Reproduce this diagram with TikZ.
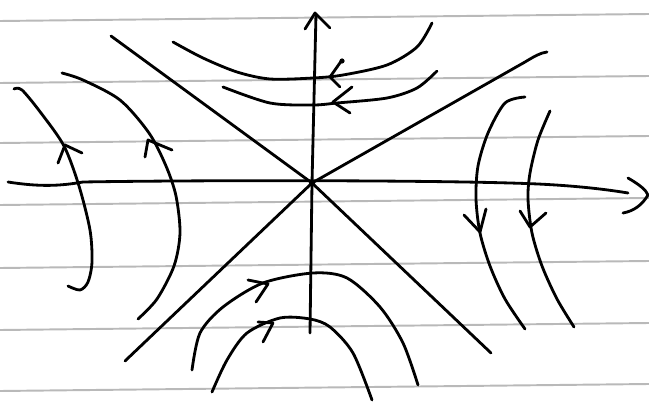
\documentclass[tikz,border=0pt]{standalone}
\usepackage{tikz}

\begin{document}
\begin{tikzpicture}[x=0.02cm,y=-0.02cm,
    pen/.style={line width=1.6pt,line cap=round,line join=round},
    rule/.style={line width=1.1pt,gray!55}]
    \useasboundingbox[fill=white] (0,0) rectangle (649,402);

    % ruled paper lines
    \foreach \y in {21,83,143,205,268,330,391} {
        \draw[rule] (0,\y) -- (649,\y-7);
    }

    \coordinate (O) at (312,183);

    % x axis
    \draw[pen] (8,182) .. controls (40,187) and (60,186) .. (83,182) .. controls (200,180) and (450,180) .. (538,184) .. controls (580,186) and (610,190) .. (628,193);
    \draw[pen] (628,178) .. controls (640,185) and (646,190) .. (648,195) .. controls (642,205) and (634,211) .. (623,213);

    % y axis
    \draw[pen] (310,333) -- (O) -- (316,14);
    \draw[pen] (305,29) -- (315,13) -- (330,28);
    \fill (O) circle (3);

    % separatrices
    \draw[pen] (111,36) -- (O) -- (491,353);
    \draw[pen] (125,361) -- (O) -- (525,62) .. controls (535,56) and (540,53) .. (547,52);

    % left trajectories (upwards)
    \draw[pen] plot[smooth] coordinates {(68,286) (80,290) (88,282) (92,262) (90,230) (79,186) (64,146) (41,113) (22,90) (14,89)};
    \draw[pen] (58,163) -- (65,145) -- (82,153);
    \draw[pen] plot[smooth] coordinates {(138,319) (157,299) (174,266) (180,233) (176,196) (166,166) (149,133) (120,100) (83,80) (62,73)};
    \draw[pen] (145,157) -- (148,140) -- (172,150);

    % right trajectories (downwards)
    \draw[pen] plot[smooth] coordinates {(525,97) (505,103) (488,133) (478,166) (476,199) (480,233) (490,266) (505,299) (525,329)};
    \draw[pen] (464,215) -- (480,232) -- (486,209);
    \draw[pen] plot[smooth] coordinates {(550,111) (538,140) (530,173) (528,199) (532,233) (542,266) (557,299) (574,327)};
    \draw[pen] (520,211) -- (530,227) -- (546,213);

    % top trajectories (leftwards)
    \draw[pen] plot[smooth] coordinates {(432,23) (417,47) (387,65) (343,75) (313,78) (270,79) (237,72) (203,58) (173,42)};
    \draw[pen] (342,60) -- (330,77) -- (340,87);
    \fill (342,61) circle (2.6);
    \draw[pen] plot[smooth] coordinates {(437,71) (417,88) (387,98) (337,103) (313,105) (270,103) (223,87)};
    \draw[pen] (352,87) -- (333,102) -- (350,113);

    % bottom trajectories (rightwards)
    \draw[pen] plot[smooth] coordinates {(192,370) (200,333) (223,307) (263,283) (313,273) (347,278) (380,307) (403,343) (418,385)};
    \draw[pen] (248,280) -- (268,284) -- (256,302);
    \draw[pen] plot[smooth] coordinates {(212,392) (227,360) (247,333) (280,318) (310,319) (330,327) (353,353) (372,400)};
    \draw[pen] (258,322) -- (273,323) -- (263,342);

\end{tikzpicture}
\end{document}
